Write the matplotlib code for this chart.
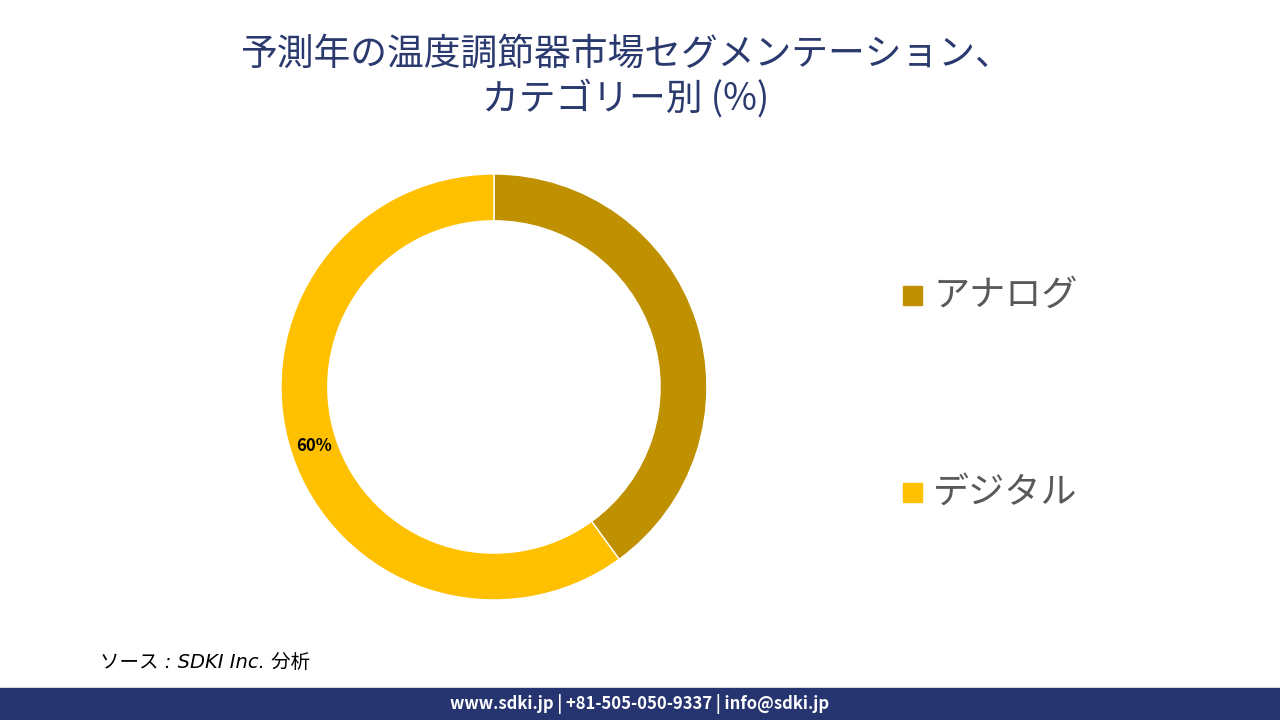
import numpy as np
import matplotlib.pyplot as plt
from matplotlib.patches import Rectangle

plt.rcParams['font.family'] = ['Noto Sans CJK JP', 'DejaVu Sans']

categories = ["アナログ", "デジタル"]
shares = [40, 60]
colors = ["#BF9000", "#FFC000"]
shown_labels = ["", "60%"]

title = "予測年の温度調節器市場セグメンテーション、\nカテゴリー別 (%)"
source = "ソース : SDKI Inc. 分析"
footer = "www.sdki.jp | +81-505-050-9337 | info@sdki.jp"

fig = plt.figure(figsize=(12.8, 7.2), dpi=100)

# donut
ax = fig.add_axes([0.2195, 0.1667, 0.3328, 0.5917])
wedges, _ = ax.pie(shares, colors=colors, startangle=90, counterclock=False,
                   radius=1.0, wedgeprops=dict(width=0.22, edgecolor="white", linewidth=1))
for w, lab in zip(wedges, shown_labels):
    if not lab:
        continue
    ang = np.deg2rad((w.theta1 + w.theta2) / 2)
    r = 0.89
    ax.text(r * np.cos(ang), r * np.sin(ang), lab, ha="center", va="center",
            fontsize=12, fontweight="bold", color="black")
ax.set_xlim(-1, 1)
ax.set_ylim(-1, 1)
ax.set_aspect("equal")
ax.axis("off")

# legend
legend_y = [0.590, 0.316]
for cat, col, y in zip(categories, colors, legend_y):
    fig.add_artist(Rectangle((903 / 1280, y - 0.013), 19 / 1280, 19 / 720,
                             transform=fig.transFigure, color=col))
    fig.text(933 / 1280, y, cat, fontsize=26, color="#595959", va="center", ha="left")

# title
fig.text(0.489, 0.893, title, ha="center", va="center", fontsize=26.5,
         color="#2B3A6E", linespacing=1.2)

# source
fig.text(100 / 1280, 1 - 662 / 720, source, ha="left", va="center",
         fontsize=14, style="italic", color="black",
         family=['DejaVu Sans', 'Noto Sans CJK JP'])

# footer bar
fig.add_artist(Rectangle((0, 0), 1, 32 / 720, transform=fig.transFigure,
                         color="#263470"))
fig.text(0.5, 16 / 720, footer, ha="center", va="center", fontsize=12,
         fontweight="bold", color="white")

fig.savefig("out.png", dpi=100)
